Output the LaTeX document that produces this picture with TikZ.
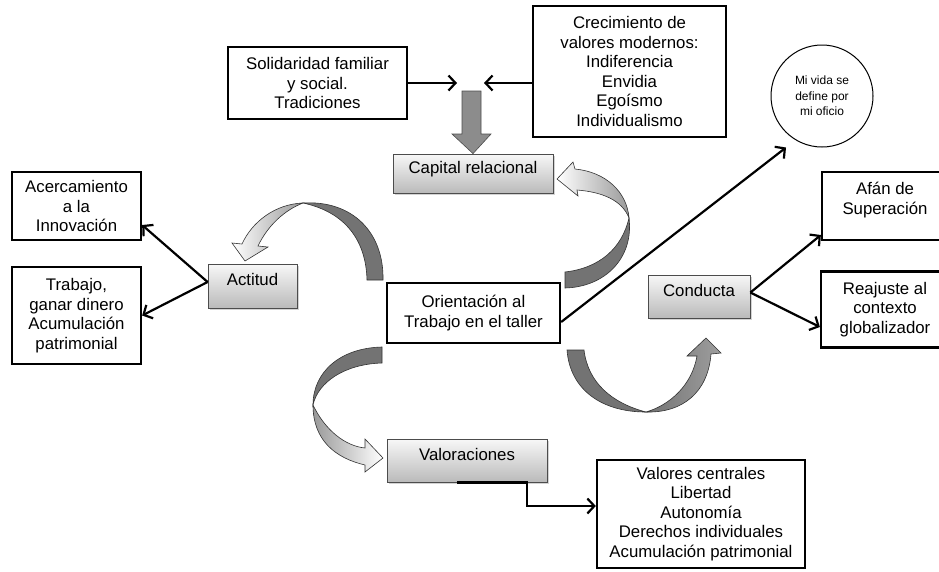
\documentclass[tikz,border=0pt]{standalone}
\usepackage{fontspec}
\setmainfont{Liberation Sans}
\usetikzlibrary{arrows.meta,shadows}
\pgfdeclarelayer{background}
\pgfdeclarelayer{foreground}
\pgfsetlayers{background,main,foreground}
\tikzset{
caja/.style={draw,line width=2.3pt,align=center,inner sep=0pt,font=\fontsize{16.8}{19.5}\selectfont},
gris/.style={draw=black!70,line width=0.8pt,top color=black!3,bottom color=black!27,inner sep=0pt,text height=12.5pt,text depth=13pt,font=\fontsize{16.8}{19.5}\selectfont,drop shadow={shadow xshift=1.5pt,shadow yshift=-1.5pt,opacity=.35}},
flecha/.style={line width=2.2pt,-{Straight Barb[length=7pt,width=15pt]}},
cinta/.style={draw=black!80,line width=0.6pt},
}

\begin{document}
\begin{tikzpicture}[x=1pt,y=-1pt]
\useasboundingbox (0,0) rectangle (939,571);
\node[caja,minimum width=179pt,minimum height=72pt] (soli) at (317.5,83) {Solidaridad familiar\\y social.\\Tradiciones};
\node[caja,minimum width=193pt,minimum height=131pt] (crec) at (629.5,71.5) {Crecimiento de\\valores modernos:\\Indiferencia\\Envidia\\Ego\'ismo\\Individualismo};
\node[draw,circle,line width=1pt,minimum size=102pt,inner sep=0pt,align=center,font=\fontsize{12}{15.5}\selectfont] (vida) at (822,96) {Mi vida se\\define por\\mi oficio};
\node[gris,minimum width=160pt,minimum height=39pt] (capital) at (473,173.5) {Capital relacional};
\node[caja,minimum width=129pt,minimum height=68pt] (acerca) at (76.5,206) {Acercamiento\\a la\\Innovaci\'on};
\node[caja,minimum width=129pt,minimum height=97pt] (trab) at (76.5,315.5) {Trabajo,\\ganar dinero\\Acumulaci\'on\\patrimonial};
\node[gris,minimum width=89pt,minimum height=44pt] (actitud) at (252.5,286) {Actitud};
\node[caja,minimum width=173pt,minimum height=60pt] (ori) at (473.5,313) {Orientaci\'on al\\Trabajo en el taller};
\node[gris,minimum width=102pt,minimum height=43pt] (conducta) at (699,296.5) {Conducta};
\node[caja,minimum width=126pt,minimum height=68pt] (afan) at (885,206) {Af\'an de\\Superaci\'on\\[-4pt]\mbox{}};
\node[caja,minimum width=128pt,minimum height=76pt] (reaj) at (885,309.5) {Reajuste al\\contexto\\globalizador};
\node[gris,minimum width=160pt,minimum height=43pt] (valor) at (467,460.5) {Valoraciones};
\node[caja,minimum width=208pt,minimum height=108pt] (valores) at (701,514) {Valores centrales\\Libertad\\Autonom\'ia\\Derechos individuales\\Acumulaci\'on patrimonial};
\coordinate (juntaI) at (457,83);
\coordinate (juntaD) at (484,83);

\draw[flecha] (soli.east) -- (juntaI);
\draw[flecha] (crec.west |- juntaD) -- (juntaD);
\draw[fill=black!45,draw=black!70,line width=.6pt] (462,91) -- (481,91) -- (481,134) -- (491,134) -- (capital.north) -- (452,134) -- (462,134) -- cycle;
\draw[flecha] ([yshift=4pt]actitud.west) -- ([yshift=-19pt]acerca.east);
\draw[flecha] ([yshift=4pt]actitud.west) -- (trab.east);
\draw[flecha] ([yshift=-9pt]ori.east) -- ([xshift=-36pt]vida.south);
\draw[flecha] ([yshift=4pt]conducta.east) -- ([yshift=-29pt]afan.west);
\draw[flecha] ([yshift=4pt]conducta.east) -- ([yshift=-17.5pt]reaj.west);
\draw[flecha] ([xshift=-10pt]valor.south) -- ([xshift=60pt]valor.south) |- ([yshift=8pt]valores.west);

\begin{pgfonlayer}{background}
% hacia Actitud
\draw[cinta,fill=black!55] (383,280) .. controls (384,232) and (352,200) .. (303,203) .. controls (345,212) and (366,240) .. (367,280) -- cycle;
\draw[cinta,left color=white,right color=black!40] (303,203) .. controls (275,204) and (252,222) .. (242,244) -- (232,243) -- (245,261) -- (268,247) -- (258,246) .. controls (268,225) and (285,210) .. (303,203) -- cycle;
% hacia Capital relacional
\draw[cinta,fill=black!55] (565,272) .. controls (600,268) and (622,248) .. (629,218) .. controls (634,258) and (605,287) .. (565,288) -- cycle;
\draw[cinta,left color=white,right color=black!40] (629,218) .. controls (627,192) and (606,172) .. (575,169) -- (573,162) -- (557,179) -- (578,196) -- (577,190) .. controls (602,192) and (622,200) .. (629,218) -- cycle;
% hacia Valoraciones
\draw[cinta,fill=black!55] (382,347) .. controls (340,348) and (313,372) .. (313,405) .. controls (318,382) and (345,364) .. (382,363) -- cycle;
\draw[cinta,left color=black!40,right color=white] (313,405) .. controls (325,430) and (345,446) .. (365,448) -- (365,439) -- (383,458) -- (365,472) -- (365,465) .. controls (335,458) and (313,440) .. (313,405) -- cycle;
% hacia Conducta
\draw[cinta,fill=black!55] (567,350) .. controls (570,390) and (602,412) .. (646,412) .. controls (612,403) and (588,383) .. (584,350) -- cycle;
\draw[cinta,left color=black!55,right color=black!38] (646,412) .. controls (670,405) and (692,385) .. (697,356) -- (687,356) -- (706,338) -- (721,353) -- (711,354) .. controls (708,392) and (683,413) .. (646,412) -- cycle;
\end{pgfonlayer}
\end{tikzpicture}
\end{document}
